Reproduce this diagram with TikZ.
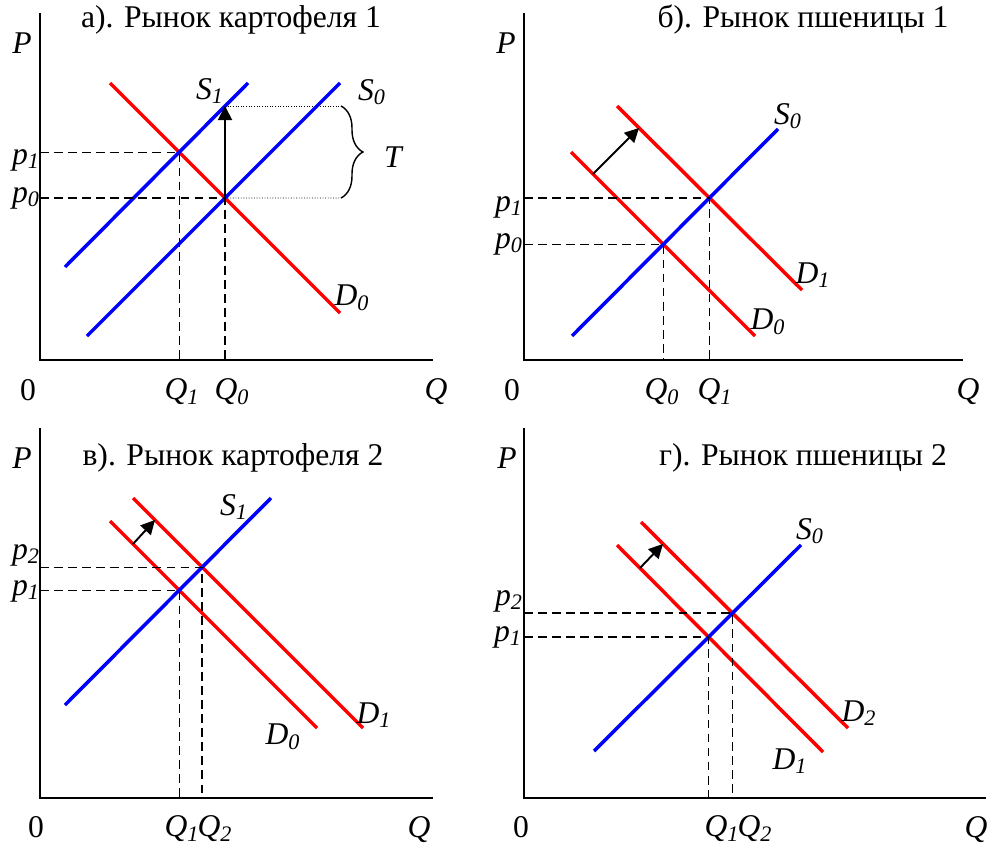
\documentclass[tikz,border=0pt]{standalone}
\usepackage{fontspec}
\setmainfont{LiberationSerif}[Extension=.ttf,UprightFont=*-Regular,ItalicFont=*-Italic,BoldFont=*-Bold]
\usepackage{tikz}
\usetikzlibrary{arrows.meta,decorations.pathreplacing}
\definecolor{demandred}{RGB}{255,0,0}
\definecolor{supplyblue}{RGB}{0,0,255}
\tikzset{
  axisline/.style={line width=0.8pt},
  demand/.style={demandred,line width=2pt},
  supply/.style={supplyblue,line width=2pt},
  guide/.style={line width=0.8pt,dash pattern=on 5pt off 3pt},
  shiftarrow/.style={line width=1.1pt,-{Triangle[length=8pt,width=8pt]}},
  lab/.style={font=\fontsize{18}{20}\selectfont\itshape,inner sep=0pt},
  title/.style={font=\fontsize{18}{20}\selectfont,inner sep=0pt},
}

\begin{document}
\begin{tikzpicture}[x=0.02cm,y=-0.02cm]
\useasboundingbox (0,0) rectangle (987,848);

% а) рынок картофеля 1
\coordinate (aO) at (40,360);
\coordinate (aY) at (40,13);
\coordinate (aX) at (433,360);
\draw[axisline] (aY) -- (aO) -- (aX);
\coordinate (aD0s) at (110,83);  \coordinate (aD0e) at (340,313);
\coordinate (aS1s) at (65,267);  \coordinate (aS1e) at (248,83);
\coordinate (aS0s) at (87,336);  \coordinate (aS0e) at (340,83);
\draw[demand] (aD0s) -- (aD0e);
\draw[supply] (aS1s) -- (aS1e);
\draw[supply] (aS0s) -- (aS0e);
\coordinate (aE1) at (intersection of aD0s--aD0e and aS1s--aS1e);
\coordinate (aE0) at (intersection of aD0s--aD0e and aS0s--aS0e);
\draw[guide] (aO |- aE1) -- (aE1) -- (aE1 |- aO);
\draw[guide] (aO |- aE0) -- (aE0) -- (aE0 |- aO);
\coordinate (aTop) at (225,106);
\draw[shiftarrow] (aE0) -- (aTop);
\coordinate (aBt) at (341,106);
\coordinate (aBb) at (341,198);
\draw[line width=0.5pt,densely dotted] (aTop) -- (aBt);
\draw[line width=0.5pt,densely dotted] (aE0) -- (aBb);
\draw[line width=0.8pt,decorate,decoration={brace,amplitude=0.44cm}] (aBt) -- (aBb);
\node[title] (aTitle) at (231,20) {а). Рынок картофеля 1};
\node[lab] (aP) at (22,43) {P};
\node[lab] (aS1) at (210,91) {S\textsubscript{1}};
\node[lab] (aS0) at (372,92) {S\textsubscript{0}};
\node[lab] (aT) at (393,157) {T};
\node[lab] (ap1) at (26,160) {p\textsubscript{1}};
\node[lab] (ap0) at (26,198) {p\textsubscript{0}};
\node[lab] (aD0) at (352,298) {D\textsubscript{0}};
\node[title] (a0) at (28,390) {0};
\node[lab] (aQ1) at (182,392) {Q\textsubscript{1}};
\node[lab] (aQ0) at (232,392) {Q\textsubscript{0}};
\node[lab] (aQ) at (436,392) {Q};

% б) рынок пшеницы 1
\coordinate (bO) at (524,360);
\coordinate (bY) at (524,13);
\coordinate (bX) at (963,360);
\draw[axisline] (bY) -- (bO) -- (bX);
\coordinate (bD0s) at (571,152);  \coordinate (bD0e) at (755,336);
\coordinate (bD1s) at (617,106);  \coordinate (bD1e) at (802,290);
\coordinate (bS0s) at (572,336);  \coordinate (bS0e) at (778,129);
\draw[demand] (bD0s) -- (bD0e);
\draw[demand] (bD1s) -- (bD1e);
\draw[supply] (bS0s) -- (bS0e);
\coordinate (bE0) at (intersection of bD0s--bD0e and bS0s--bS0e);
\coordinate (bE1) at (intersection of bD1s--bD1e and bS0s--bS0e);
\draw[guide] (bO |- bE1) -- (bE1) -- (bE1 |- bO);
\draw[guide] (bO |- bE0) -- (bE0) -- (bE0 |- bO);
\coordinate (bArrS) at (593,174);
\coordinate (bArrE) at (639,128);
\draw[shiftarrow] (bArrS) -- (bArrE);
\node[title] (bTitle) at (803,20) {б). Рынок пшеницы 1};
\node[lab] (bP) at (506,43) {P};
\node[lab] (bS0) at (788,116) {S\textsubscript{0}};
\node[lab] (bD1) at (813,275) {D\textsubscript{1}};
\node[lab] (bD0) at (768,322) {D\textsubscript{0}};
\node[lab] (bp1) at (509,207) {p\textsubscript{1}};
\node[lab] (bp0) at (509,244) {p\textsubscript{0}};
\node[title] (b0) at (512,390) {0};
\node[lab] (bQ0) at (662,392) {Q\textsubscript{0}};
\node[lab] (bQ1) at (715,392) {Q\textsubscript{1}};
\node[lab] (bQ) at (968,392) {Q};

% в) рынок картофеля 2
\coordinate (cO) at (40,798);
\coordinate (cY) at (40,428);
\coordinate (cX) at (433,798);
\draw[axisline] (cY) -- (cO) -- (cX);
\coordinate (cD0s) at (110,521);  \coordinate (cD0e) at (317,728);
\coordinate (cD1s) at (133,498);  \coordinate (cD1e) at (363,728);
\coordinate (cS1s) at (65,705);   \coordinate (cS1e) at (271,498);
\draw[demand] (cD0s) -- (cD0e);
\draw[demand] (cD1s) -- (cD1e);
\draw[supply] (cS1s) -- (cS1e);
\coordinate (cE1) at (intersection of cD0s--cD0e and cS1s--cS1e);
\coordinate (cE2) at (intersection of cD1s--cD1e and cS1s--cS1e);
\draw[guide] (cO |- cE2) -- (cE2) -- (cE2 |- cO);
\draw[guide] (cO |- cE1) -- (cE1) -- (cE1 |- cO);
\coordinate (cArrS) at (133,544);
\coordinate (cArrE) at (155,520);
\draw[shiftarrow] (cArrS) -- (cArrE);
\node[title] (cTitle) at (233,458) {в). Рынок картофеля 2};
\node[lab] (cP) at (22,458) {P};
\node[lab] (cS1) at (234,507) {S\textsubscript{1}};
\node[lab] (cp2) at (26,555) {p\textsubscript{2}};
\node[lab] (cp1) at (26,591) {p\textsubscript{1}};
\node[lab] (cD1) at (374,715) {D\textsubscript{1}};
\node[lab] (cD0) at (283,737) {D\textsubscript{0}};
\node[title] (c0) at (36,827) {0};
\node[lab] (cQ1) at (182,829) {Q\textsubscript{1}};
\node[lab] (cQ2) at (215,829) {Q\textsubscript{2}};
\node[lab] (cQ) at (419,830) {Q};

% г) рынок пшеницы 2
\coordinate (dO) at (524,798);
\coordinate (dY) at (524,428);
\coordinate (dX) at (986,798);
\draw[axisline] (dY) -- (dO) -- (dX);
\coordinate (dD1s) at (617,545);  \coordinate (dD1e) at (823,752);
\coordinate (dD2s) at (641,522);  \coordinate (dD2e) at (848,728);
\coordinate (dS0s) at (594,751);  \coordinate (dS0e) at (801,545);
\draw[demand] (dD1s) -- (dD1e);
\draw[demand] (dD2s) -- (dD2e);
\draw[supply] (dS0s) -- (dS0e);
\coordinate (dE1) at (intersection of dD1s--dD1e and dS0s--dS0e);
\coordinate (dE2) at (intersection of dD2s--dD2e and dS0s--dS0e);
\draw[guide] (dO |- dE2) -- (dE2) -- (dE2 |- dO);
\draw[guide] (dO |- dE1) -- (dE1) -- (dE1 |- dO);
\coordinate (dArrS) at (640,568);
\coordinate (dArrE) at (663,544);
\draw[shiftarrow] (dArrS) -- (dArrE);
\node[title] (dTitle) at (803,458) {г). Рынок пшеницы 2};
\node[lab] (dP) at (507,458) {P};
\node[lab] (dS0) at (810,531) {S\textsubscript{0}};
\node[lab] (dp2) at (509,601) {p\textsubscript{2}};
\node[lab] (dp1) at (508,637) {p\textsubscript{1}};
\node[lab] (dD2) at (859,713) {D\textsubscript{2}};
\node[lab] (dD1) at (790,761) {D\textsubscript{1}};
\node[title] (d0) at (521,827) {0};
\node[lab] (dQ1) at (722,829) {Q\textsubscript{1}};
\node[lab] (dQ2) at (755,829) {Q\textsubscript{2}};
\node[lab] (dQ) at (976,830) {Q};
\end{tikzpicture}
\end{document}
